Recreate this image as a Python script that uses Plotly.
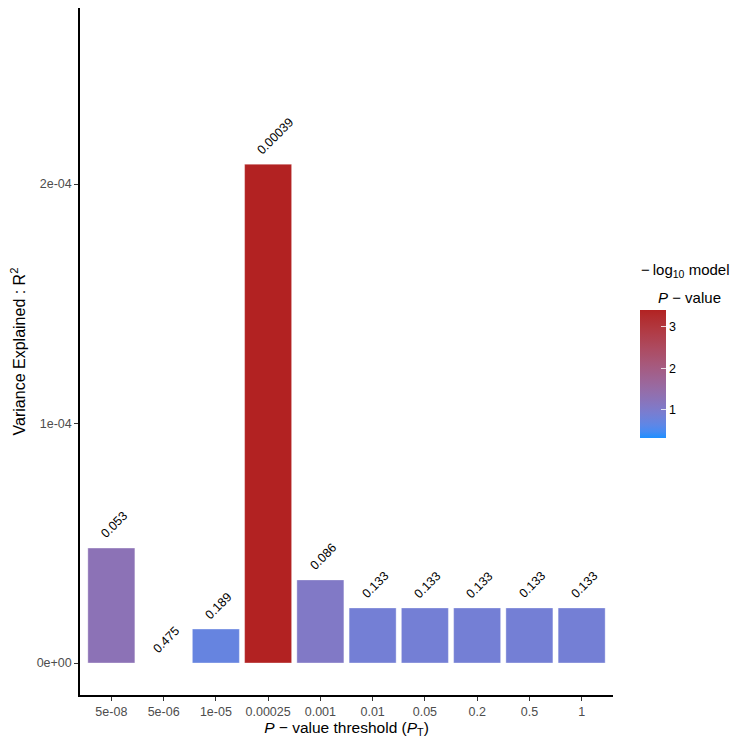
import math
import plotly.graph_objects as go

# ---- data ----
thresholds = ["5e-08", "5e-06", "1e-05", "0.00025", "0.001", "0.01", "0.05", "0.2", "0.5", "1"]
r2_values = [4.80e-5, 0.0, 1.42e-5, 2.083e-4, 3.47e-5, 2.30e-5, 2.30e-5, 2.30e-5, 2.30e-5, 2.30e-5]
p_labels = ["0.053", "0.475", "0.189", "0.00039", "0.086", "0.133", "0.133", "0.133", "0.133", "0.133"]
p_values = [float(s) for s in p_labels]
neglog = [-math.log10(p) for p in p_values]
y_tickvals = [0, 1e-4, 2e-4]
y_ticktext = ["0e+00", "1e-04", "2e-04"]
cb_ticks = [1, 2, 3]
positions = list(range(len(thresholds)))

# ---- Lab-space gradient (like ggplot's scale_fill_gradient) ----
def hex2rgb(h):
    h = h.lstrip("#")
    return [int(h[i:i + 2], 16) / 255 for i in (0, 2, 4)]

def srgb2lin(c):
    return c / 12.92 if c <= 0.04045 else ((c + 0.055) / 1.055) ** 2.4

def lin2srgb(c):
    c = max(0.0, min(1.0, c))
    return 12.92 * c if c <= 0.0031308 else 1.055 * c ** (1 / 2.4) - 0.055

WX, WY, WZ = 0.95047, 1.0, 1.08883

def f(t):
    return t ** (1 / 3) if t > 216 / 24389 else (24389 / 27 * t + 16) / 116

def finv(t):
    return t ** 3 if t ** 3 > 216 / 24389 else (116 * t - 16) / (24389 / 27)

def rgb2lab(rgb):
    r, g, b = [srgb2lin(c) for c in rgb]
    X = 0.4124 * r + 0.3576 * g + 0.1805 * b
    Y = 0.2126 * r + 0.7152 * g + 0.0722 * b
    Z = 0.0193 * r + 0.1192 * g + 0.9505 * b
    fx, fy, fz = f(X / WX), f(Y / WY), f(Z / WZ)
    return [116 * fy - 16, 500 * (fx - fy), 200 * (fy - fz)]

def lab2rgb(lab):
    L, a, b = lab
    fy = (L + 16) / 116
    fx = fy + a / 500
    fz = fy - b / 200
    X, Y, Z = WX * finv(fx), WY * finv(fy), WZ * finv(fz)
    r = 3.2406 * X - 1.5372 * Y - 0.4986 * Z
    g = -0.9689 * X + 1.8758 * Y + 0.0415 * Z
    bb = 0.0557 * X - 0.2040 * Y + 1.0570 * Z
    return [lin2srgb(c) for c in (r, g, bb)]

low = rgb2lab(hex2rgb("#1E90FF"))
high = rgb2lab(hex2rgb("#B22222"))
colorscale = []
N = 20
for i in range(N + 1):
    t = i / N
    lab = [low[k] + (high[k] - low[k]) * t for k in range(3)]
    r, g, b = lab2rgb(lab)
    colorscale.append([t, "rgb(%d,%d,%d)" % (round(r * 255), round(g * 255), round(b * 255))])

font_family = "Liberation Sans, Arial, sans-serif"

# page has an 8px body margin; figure is sized/margined to compensate
W, H = 742, 742
ML, MR, MT, MB = 72, 137, 0, 55
plot_h = H - MT - MB

def py(page_y):
    return (H - MB - (page_y - 8)) / plot_h

def px(page_x):
    return (page_x - 8 - ML) / (W - ML - MR)

fig = go.Figure()
fig.add_trace(go.Bar(
    x=positions,
    y=r2_values,
    width=0.9,
    marker=dict(
        color=neglog,
        colorscale=colorscale,
        cmin=min(neglog),
        cmax=max(neglog),
        line=dict(width=0.8, color="rgba(255,255,255,0.45)"),
        colorbar=dict(
            x=px(640), xanchor="left",
            y=py(374), yanchor="middle",
            thickness=26,
            lenmode="pixels", len=128, ypad=0, xpad=0,
            outlinewidth=0,
            tickvals=cb_ticks,
            ticks="inside", ticklen=5, tickcolor="rgba(255,255,255,0.8)",
            tickfont=dict(size=12.5, color="black", family=font_family),
        ),
    ),
    hovertext=thresholds,
))

for xi, yi, lab in zip(positions, r2_values, p_labels):
    fig.add_annotation(
        x=xi, y=yi, text=lab, showarrow=False, textangle=-45,
        xanchor="left", yanchor="bottom", xshift=-16, yshift=4,
        font=dict(size=12.5, color="black", family=font_family),
    )

# legend title (two lines, like ggplot)
fig.add_annotation(
    x=px(639), y=py(270), xref="paper", yref="paper",
    text="−\u2009log<sub>10</sub> model", showarrow=False, xanchor="left", yanchor="middle",
    font=dict(size=15, color="black", family=font_family),
)
fig.add_annotation(
    x=px(656), y=py(297), xref="paper", yref="paper",
    text="<i>P</i> − value", showarrow=False, xanchor="left", yanchor="middle",
    font=dict(size=15, color="black", family=font_family),
)

fig.update_layout(
    width=W, height=H,
    plot_bgcolor="white", paper_bgcolor="white",
    margin=dict(l=ML, r=MR, t=MT, b=MB, autoexpand=False),
    font=dict(family=font_family),
    showlegend=False,
)
fig.update_xaxes(
    range=[-0.6, 9.6], automargin=False,
    tickvals=positions, ticktext=thresholds,
    showline=True, linecolor="black", linewidth=1.5,
    ticks="outside", ticklen=4, tickcolor="#333333",
    tickfont=dict(size=12.5, color="#4D4D4D"),
    showgrid=False, zeroline=False,
    title=dict(text="<i>P</i> − value threshold (<i>P</i><sub>T</sub>)", font=dict(size=15.5, color="black"), standoff=4),
)
fig.update_yaxes(
    range=[-1.336e-5, 2.735e-4], automargin=False,
    tickvals=y_tickvals, ticktext=y_ticktext,
    showline=True, linecolor="black", linewidth=1.5,
    ticks="outside", ticklen=4, tickcolor="#333333",
    tickfont=dict(size=12.5, color="#4D4D4D"),
    showgrid=False, zeroline=False,
    title=dict(text="Variance Explained : R<sup>2</sup>", font=dict(size=16, color="black"), standoff=8),
)

fig.write_html("out.html")
